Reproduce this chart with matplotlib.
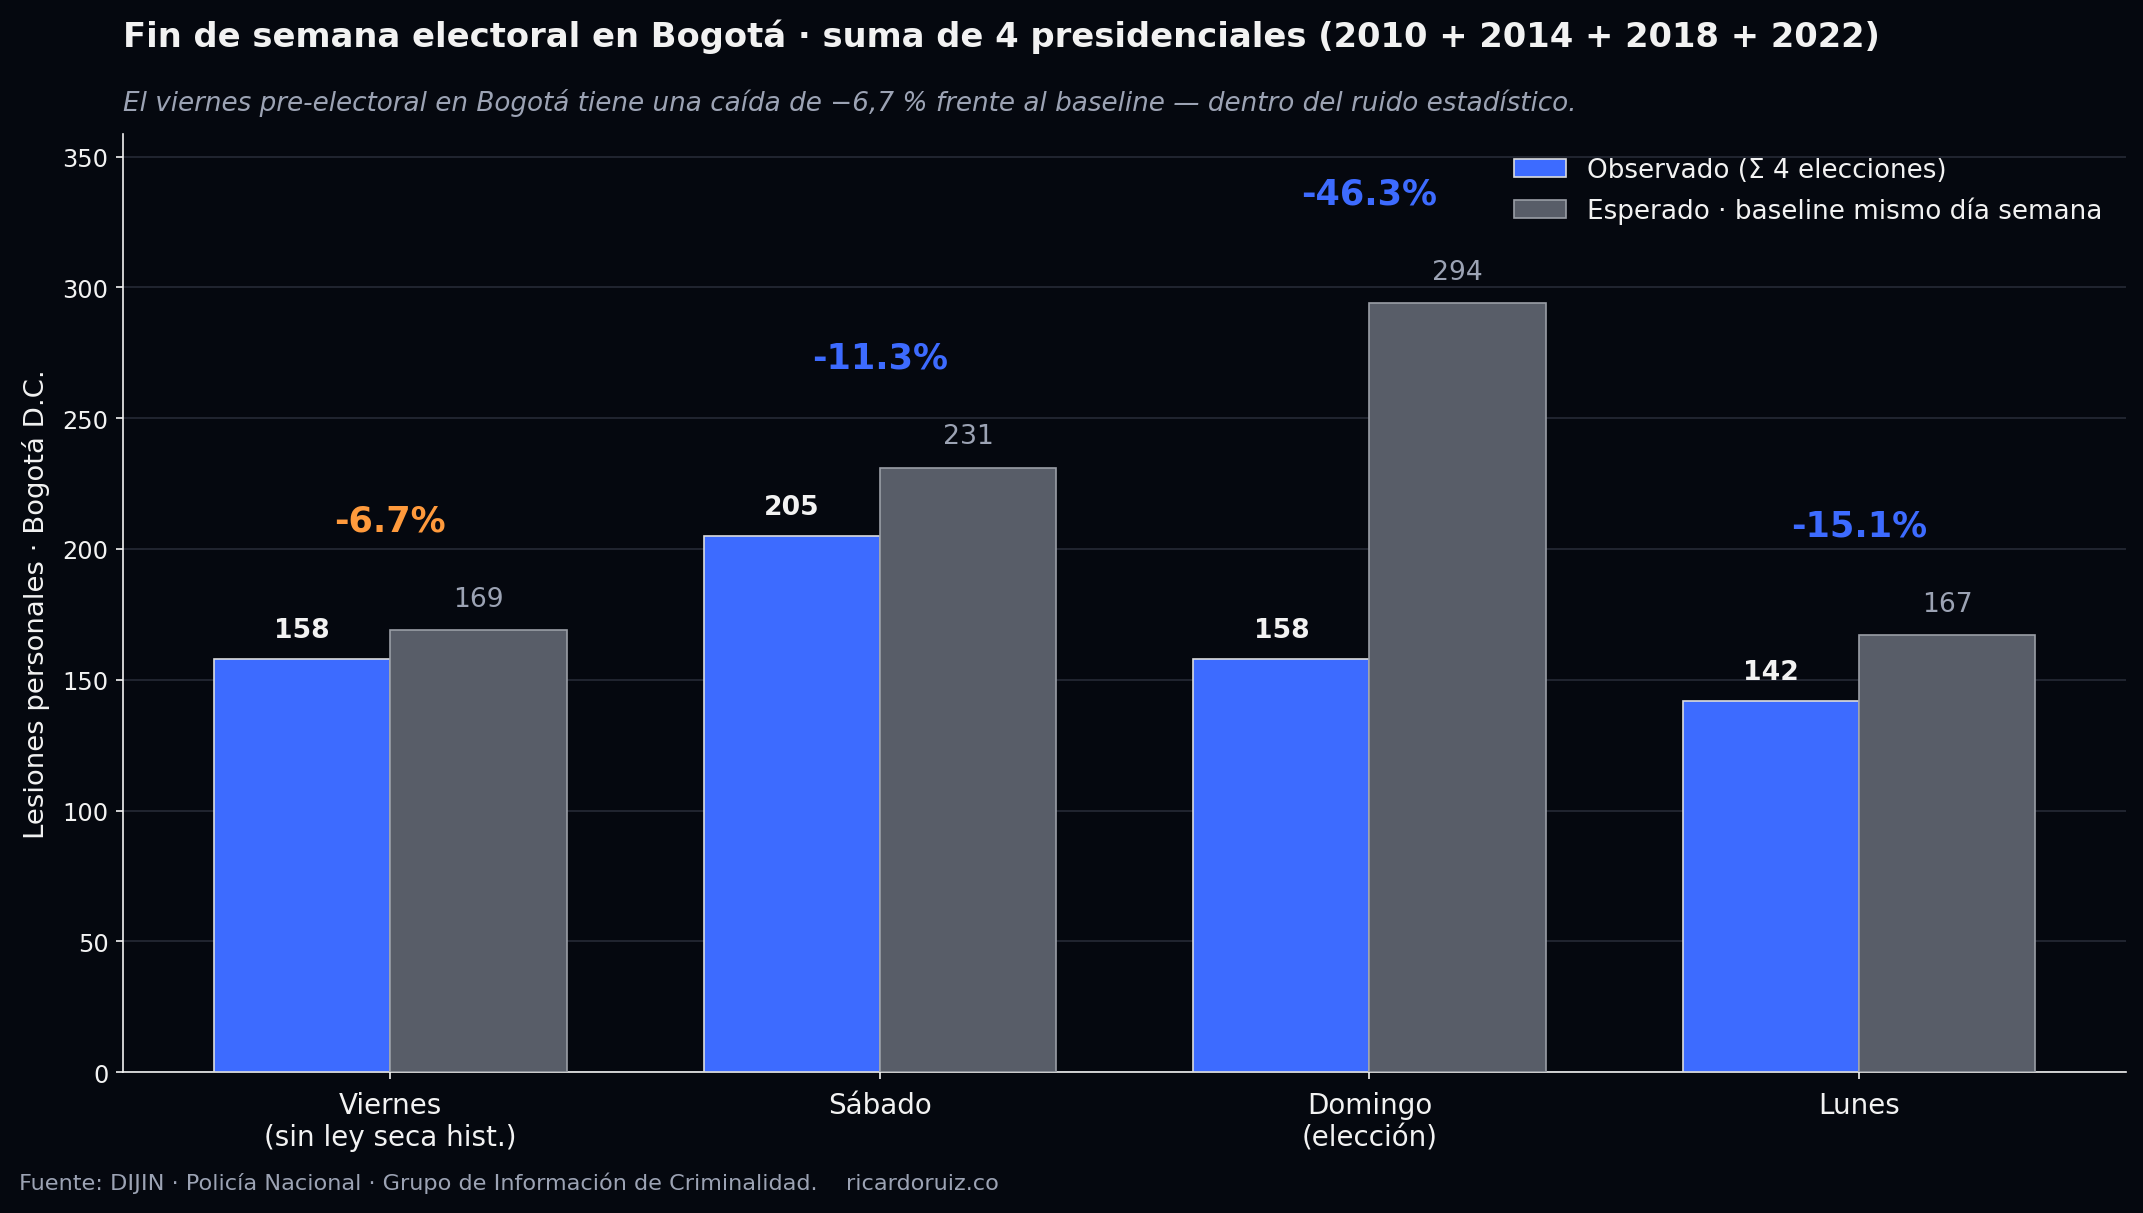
import matplotlib
matplotlib.use("Agg")
import matplotlib.pyplot as plt
import numpy as np

categories = ["Viernes\n(sin ley seca hist.)", "Sábado", "Domingo\n(elección)", "Lunes"]
observed = [158, 205, 158, 142]
expected = [169, 231, 294, 167]
pct_labels = ["-6.7%", "-11.3%", "-46.3%", "-15.1%"]

BG = "#05080f"
BLUE = "#3d6bff"
GRAY = "#585d68"
ORANGE = "#ff9a3c"
TXT = "#f2f2f2"
MUTED = "#9ca3b4"

plt.rcParams['font.family'] = ['DejaVu Sans']
fig = plt.figure(figsize=(14.29, 8.093), dpi=150, facecolor=BG)
ax = fig.add_axes([0.0574, 0.116, 0.9346, 0.773])
ax.set_facecolor(BG)

x = np.arange(len(categories))
w = 0.36
b1 = ax.bar(x - w/2, observed, w, color=BLUE, edgecolor="#dcdcdc", linewidth=0.8,
            label="Observado (Σ 4 elecciones)", zorder=3)
b2 = ax.bar(x + w/2, expected, w, color=GRAY, edgecolor="#9a9ea6", linewidth=0.8,
            label="Esperado · baseline mismo día semana", zorder=3)

for xi, v in zip(x - w/2, observed):
    ax.text(xi, v + 11, f"{v}", ha="center", va="center", color=TXT,
            fontsize=12.8, fontweight="bold", zorder=4)
for xi, v in zip(x + w/2, expected):
    ax.text(xi, v + 12, f"{v}", ha="center", va="center", color=MUTED,
            fontsize=12.8, zorder=4)
for xi, o, e, lab in zip(x, observed, expected, pct_labels):
    pct = (o - e) / e * 100
    col = ORANGE if abs(pct) < 10 else BLUE
    ax.text(xi, max(o, e) + 42, lab, ha="center", va="center", color=col,
            fontsize=16.8, fontweight="bold", zorder=4)

ax.set_ylim(0, max(expected) * 1.22)
ax.set_yticks(np.arange(0, 351, 50))
ax.set_xticks(x)
ax.set_xticklabels(categories, fontsize=13.3, color=TXT)
ax.tick_params(axis="y", colors=TXT, labelsize=11.5)
ax.tick_params(axis="x", colors=TXT, labelsize=13.3, pad=5.5)
ax.grid(axis="y", color="#262a36", linewidth=0.8, zorder=0)
ax.set_axisbelow(True)
for s in ["top", "right"]:
    ax.spines[s].set_visible(False)
for s in ["left", "bottom"]:
    ax.spines[s].set_color(TXT)
ax.set_ylabel("Lesiones personales · Bogotá D.C.", color=TXT, fontsize=13.2, labelpad=6)

leg = ax.legend(loc="upper right", frameon=False, fontsize=12.6, labelcolor=TXT,
                bbox_to_anchor=(1.0, 1.0))

fig.text(0.0574, 0.970, "Fin de semana electoral en Bogotá · suma de 4 presidenciales (2010 + 2014 + 2018 + 2022)",
         ha="left", va="center", color=TXT, fontsize=16.2, fontweight="bold")
fig.text(0.0574, 0.915, "El viernes pre-electoral en Bogotá tiene una caída de −6,7 % frente al baseline — dentro del ruido estadístico.",
         ha="left", va="center", color=MUTED, fontsize=12.6, style="italic")
fig.text(0.009, 0.025, "Fuente: DIJIN · Policía Nacional · Grupo de Información de Criminalidad.    ricardoruiz.co",
         ha="left", va="center", color=MUTED, fontsize=10.75)

fig.savefig("out.png", dpi=150, facecolor=BG)
